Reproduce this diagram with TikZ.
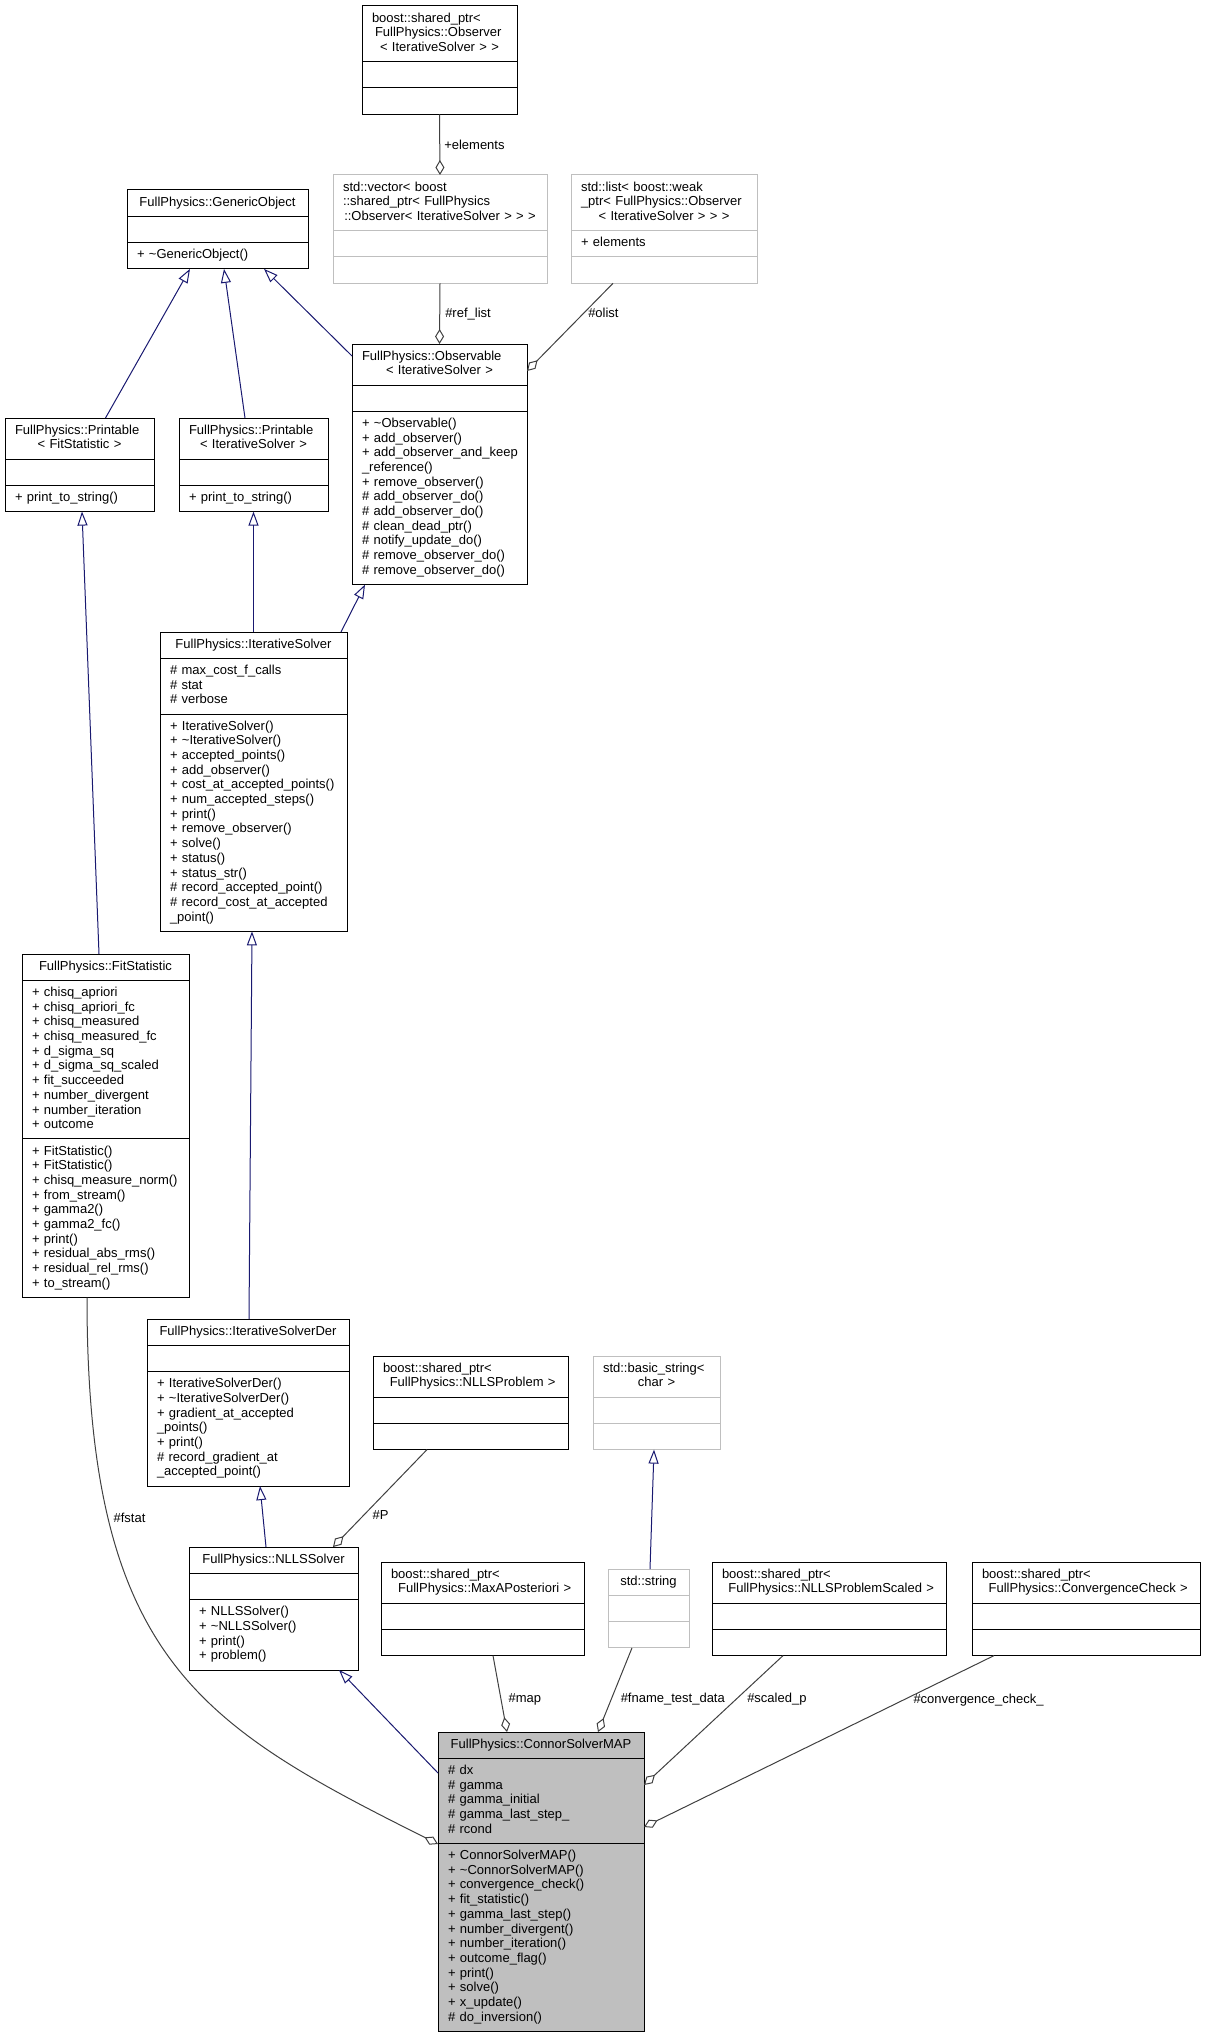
\documentclass[tikz,border=0pt]{standalone}
\usepackage{fontspec}
\setmainfont{Liberation Sans}
\usetikzlibrary{arrows.meta,positioning,calc,shapes.multipart}

\definecolor{edgegray}{HTML}{404040}
\definecolor{inhblue}{HTML}{191970}
\definecolor{boxgray}{HTML}{BFBFBF}

\begin{document}
\begin{tikzpicture}[
    x=1pt, y=-1pt,
    font=\fontsize{13}{14.7}\selectfont,
    classbox/.style={
        rectangle split,
        rectangle split parts=3,
        draw=black,
        line width=1pt,
        inner xsep=10pt,
        inner ysep=5.3pt,
        outer sep=0pt,
        anchor=north west,
        align=left,
        text width=#1
    },
    extbox/.style={
        draw=boxgray
    },
    focus/.style={
        fill=boxgray
    },
    inherit/.style={
        -{Triangle[open,length=14pt,width=10pt]},
        draw=inhblue,
        line width=1pt
    },
    aggreg/.style={
        -{Diamond[open,length=15pt,width=9pt]},
        draw=edgegray,
        line width=1pt
    },
    role/.style={
        anchor=west,
        inner sep=0pt
    }
]

\useasboundingbox (0,0) rectangle (1205,2033);

% Observer pointer and its containers
\node[classbox=135pt] (spobs) at (362,6) {\strut boost::shared\_ptr<\\
    \hspace*{3pt}FullPhysics::Observer\\
    \makebox[\linewidth]{< IterativeSolver > >}\strut
    \nodepart{two}\strut
    \nodepart{three}\strut};

\node[classbox=194pt, extbox] (vecref) at (333,175) {\strut std::vector<~boost\\
    ::shared\_ptr<~FullPhysics\\
    \makebox[\linewidth]{::Observer< IterativeSolver > > >}\strut
    \nodepart{two}\strut
    \nodepart{three}\strut};

\node[classbox=166pt, extbox] (olist) at (571,175) {\strut std::list<~boost::weak\\
    \_ptr<~FullPhysics::Observer\\
    \makebox[\linewidth]{< IterativeSolver > > >}\strut
    \nodepart{two}\strut +~elements\strut
    \nodepart{three}\strut};

% Base classes
\node[classbox=161pt] (genobj) at (127,190) {\strut\makebox[\linewidth]{FullPhysics::GenericObject}\strut
    \nodepart{two}\strut
    \nodepart{three}\strut +~\textasciitilde GenericObject()\strut};

\node[classbox=155pt] (observable) at (352,344) {\strut FullPhysics::Observable\\
    \makebox[\linewidth]{< IterativeSolver >}\strut
    \nodepart{two}\strut
    \nodepart{three}\strut +~\textasciitilde Observable()\\
    +~add\_observer()\\
    +~add\_observer\_and\_keep\\
    \_reference()\\
    +~remove\_observer()\\
    \#~add\_observer\_do()\\
    \#~add\_observer\_do()\\
    \#~clean\_dead\_ptr()\\
    \#~notify\_update\_do()\\
    \#~remove\_observer\_do()\\
    \#~remove\_observer\_do()\strut};

\node[classbox=129pt] (printfs) at (5,418) {\strut FullPhysics::Printable\\
    \makebox[\linewidth]{< FitStatistic >}\strut
    \nodepart{two}\strut
    \nodepart{three}\strut +~print\_to\_string()\strut};

\node[classbox=129pt] (printis) at (179,418) {\strut FullPhysics::Printable\\
    \makebox[\linewidth]{< IterativeSolver >}\strut
    \nodepart{two}\strut
    \nodepart{three}\strut +~print\_to\_string()\strut};

% Solver hierarchy
\node[classbox=167pt] (itsolver) at (160,632) {\strut\makebox[\linewidth]{FullPhysics::IterativeSolver}\strut
    \nodepart{two}\strut \#~max\_cost\_f\_calls\\
    \#~stat\\
    \#~verbose\strut
    \nodepart{three}\strut +~IterativeSolver()\\
    +~\textasciitilde IterativeSolver()\\
    +~accepted\_points()\\
    +~add\_observer()\\
    +~cost\_at\_accepted\_points()\\
    +~num\_accepted\_steps()\\
    +~print()\\
    +~remove\_observer()\\
    +~solve()\\
    +~status()\\
    +~status\_str()\\
    \#~record\_accepted\_point()\\
    \#~record\_cost\_at\_accepted\\
    \_point()\strut};

\node[classbox=147pt] (fitstat) at (22,954) {\strut\makebox[\linewidth]{FullPhysics::FitStatistic}\strut
    \nodepart{two}\strut +~chisq\_apriori\\
    +~chisq\_apriori\_fc\\
    +~chisq\_measured\\
    +~chisq\_measured\_fc\\
    +~d\_sigma\_sq\\
    +~d\_sigma\_sq\_scaled\\
    +~fit\_succeeded\\
    +~number\_divergent\\
    +~number\_iteration\\
    +~outcome\strut
    \nodepart{three}\strut +~FitStatistic()\\
    +~FitStatistic()\\
    +~chisq\_measure\_norm()\\
    +~from\_stream()\\
    +~gamma2()\\
    +~gamma2\_fc()\\
    +~print()\\
    +~residual\_abs\_rms()\\
    +~residual\_rel\_rms()\\
    +~to\_stream()\strut};

\node[classbox=182pt] (isd) at (147,1319) {\strut\makebox[\linewidth]{FullPhysics::IterativeSolverDer}\strut
    \nodepart{two}\strut
    \nodepart{three}\strut +~IterativeSolverDer()\\
    +~\textasciitilde IterativeSolverDer()\\
    +~gradient\_at\_accepted\\
    \_points()\\
    +~print()\\
    \#~record\_gradient\_at\\
    \_accepted\_point()\strut};

\node[classbox=149pt] (nllssolver) at (189,1547) {\strut\makebox[\linewidth]{FullPhysics::NLLSSolver}\strut
    \nodepart{two}\strut
    \nodepart{three}\strut +~NLLSSolver()\\
    +~\textasciitilde NLLSSolver()\\
    +~print()\\
    +~problem()\strut};

% Member types
\node[classbox=175pt] (spnlls) at (373,1356) {\strut boost::shared\_ptr<\\
    \makebox[\linewidth]{ FullPhysics::NLLSProblem >}\strut
    \nodepart{two}\strut
    \nodepart{three}\strut};

\node[classbox=107pt, extbox] (basicstr) at (593,1356) {\strut std::basic\_string<\\
    \makebox[\linewidth]{char >}\strut
    \nodepart{two}\strut
    \nodepart{three}\strut};

\node[classbox=183pt] (spmap) at (381,1562) {\strut boost::shared\_ptr<\\
    \makebox[\linewidth]{ FullPhysics::MaxAPosteriori >}\strut
    \nodepart{two}\strut
    \nodepart{three}\strut};

\node[classbox=61pt, extbox] (stdstring) at (608,1569) {\strut\makebox[\linewidth]{std::string}\strut
    \nodepart{two}\strut
    \nodepart{three}\strut};

\node[classbox=214pt] (spscaled) at (712,1562) {\strut boost::shared\_ptr<\\
    \makebox[\linewidth]{ FullPhysics::NLLSProblemScaled >}\strut
    \nodepart{two}\strut
    \nodepart{three}\strut};

\node[classbox=208pt] (spconv) at (972,1562) {\strut boost::shared\_ptr<\\
    \makebox[\linewidth]{ FullPhysics::ConvergenceCheck >}\strut
    \nodepart{two}\strut
    \nodepart{three}\strut};

% The documented class
\node[classbox=186pt, focus] (csm) at (438,1732) {\strut\makebox[\linewidth]{FullPhysics::ConnorSolverMAP}\strut
    \nodepart{two}\strut \#~dx\\
    \#~gamma\\
    \#~gamma\_initial\\
    \#~gamma\_last\_step\_\\
    \#~rcond\strut
    \nodepart{three}\strut +~ConnorSolverMAP()\\
    +~\textasciitilde ConnorSolverMAP()\\
    +~convergence\_check()\\
    +~fit\_statistic()\\
    +~gamma\_last\_step()\\
    +~number\_divergent()\\
    +~number\_iteration()\\
    +~outcome\_flag()\\
    +~print()\\
    +~solve()\\
    +~x\_update()\\
    \#~do\_inversion()\strut};

% Inheritance
\draw[inherit] ($(printfs.north)+(26,0)$) -- ($(genobj.south)+(-27.5,0)$);
\draw[inherit] ($(printis.north)+(-8.5,0)$) -- ($(genobj.south)+(6.5,0)$);
\draw[inherit] ($(observable.north west)+(0,12)$) -- ($(genobj.south)+(46.5,0)$);
\draw[inherit] ($(fitstat.north)+(-6.5,0)$) -- ($(printfs.south)+(2.5,0)$);
\draw[inherit] (itsolver.north) -- (printis.south);
\draw[inherit] ($(itsolver.north)+(87.5,0)$) -- ($(observable.south)+(-74.5,0)$);
\draw[inherit] ($(isd.north)+(1,0)$) -- ($(itsolver.south)+(-1.5,0)$);
\draw[inherit] ($(nllssolver.north)+(-7.5,0)$) -- ($(isd.south)+(12,0)$);
\draw[inherit] ($(csm.north west)+(0,41)$) -- ($(nllssolver.south)+(65.5,0)$);
\draw[inherit] ($(stdstring.north)+(1.5,0)$) -- ($(basicstr.south)+(-2.5,0)$);

% Aggregation
\draw[aggreg] (spobs.south) -- node[role, pos=0.5, xshift=4pt] {+elements} (vecref.north);
\draw[aggreg] (vecref.south) -- node[role, pos=0.5, xshift=5pt] {\#ref\_list} (observable.north);
\draw[aggreg] ($(olist.south)+(-51,0)$) -- node[role, pos=0.34, xshift=4pt] {\#olist} ($(observable.north east)+(0,27)$);
\draw[aggreg] ($(fitstat.south)+(-18.5,0)$) .. controls +(0,360) and +(-240,-120) .. node[role, pos=0.25, xshift=5pt] {\#fstat} ($(csm.north west)+(0,112)$);
\draw[aggreg] ($(spnlls.south)+(-43.5,0)$) -- node[role, pos=0.67, xshift=8pt] {\#P} ($(nllssolver.north)+(59.5,0)$);
\draw[aggreg] ($(spmap.south)+(10.5,0)$) -- node[role, pos=0.575, xshift=7pt] {\#map} ($(csm.north)+(-34,0)$);
\draw[aggreg] ($(stdstring.south)+(-16.5,0)$) -- node[role, pos=0.61, xshift=9pt] {\#fname\_test\_data} ($(csm.north)+(57,0)$);
\draw[aggreg] ($(spscaled.south)+(-46,0)$) -- node[role, pos=0.34, xshift=11pt] {\#scaled\_p} ($(csm.north east)+(0,53)$);
\draw[aggreg] ($(spconv.south)+(-92,0)$) -- node[role, pos=0.26, xshift=10pt] {\#convergence\_check\_} ($(csm.north east)+(0,95)$);

\end{tikzpicture}
\end{document}
